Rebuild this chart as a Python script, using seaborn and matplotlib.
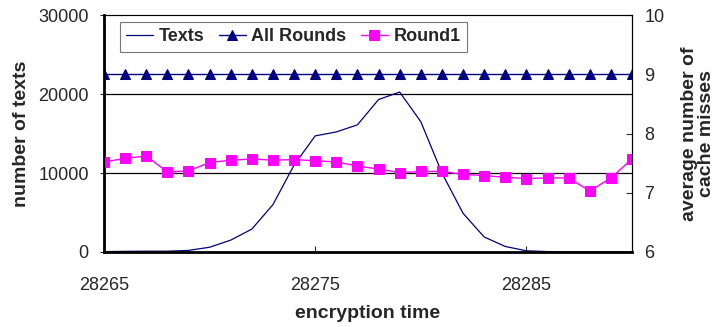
import numpy as np
import matplotlib.pyplot as plt
import seaborn as sns

# encryption time values on the x axis
enc_time = list(range(28265, 28291))

# number of texts (left axis)
texts = [50, 80, 100, 100, 200, 600, 1500, 2900, 6000, 11000, 14700, 15200, 16100,
         19300, 20250, 16500, 10000, 4900, 1900, 700, 150, 50, 0, 0, 0, 0]

# average number of cache misses (right axis)
all_rounds = [9.0] * 26
round1 = [7.52, 7.58, 7.62, 7.35, 7.37, 7.51, 7.55, 7.57, 7.55, 7.56, 7.54, 7.52, 7.45,
          7.40, 7.34, 7.36, 7.36, 7.31, 7.29, 7.26, 7.24, 7.25, 7.25, 7.03, 7.25, 7.57]

sns.set_style("white")
plt.rcParams['font.family'] = ['Liberation Sans', 'DejaVu Sans']

fig = plt.figure(figsize=(7.2, 3.27), dpi=100)
ax = fig.add_axes([0.1444, 0.2294, 0.7334, 0.7246])
ax2 = ax.twinx()

sns.lineplot(x=enc_time, y=texts, ax=ax, color="#000080", linewidth=0.9, label="Texts", legend=False)
sns.lineplot(x=enc_time, y=all_rounds, ax=ax2, color="#000080", linewidth=1.0,
             marker="^", markersize=7, markeredgecolor="#000080", label="All Rounds", legend=False)
sns.lineplot(x=enc_time, y=round1, ax=ax2, color="#FF00FF", linewidth=1.0,
             marker="s", markersize=7, markeredgecolor="#FF00FF", label="Round1", legend=False)

ax.set_xlim(28265, 28290)
ax.set_ylim(0, 30000)
ax2.set_ylim(6, 10)
ax.set_xticks([28265, 28275, 28285])
ax.set_yticks([0, 10000, 20000, 30000])
ax2.set_yticks([6, 7, 8, 9, 10])

for y in [10000, 20000]:
    ax.axhline(y, color="black", linewidth=0.9, zorder=0)

for a in (ax, ax2):
    for s in a.spines.values():
        s.set_color("black")
        s.set_linewidth(0.8)
ax.spines["left"].set_linewidth(2)
ax.spines["bottom"].set_linewidth(2)
ax.spines["top"].set_color("#555555")

ax.tick_params(axis="x", direction="in", length=4, labelsize=13, pad=18, bottom=True)
ax.tick_params(axis="y", direction="out", length=3, labelsize=13, pad=8, left=True)
ax2.tick_params(axis="y", direction="in", length=4, labelsize=13, right=True, pad=9)

ax.set_xlabel("encryption time", fontsize=14, fontweight="bold", labelpad=8)
ax.set_ylabel("number of texts", fontsize=14, fontweight="bold", labelpad=6)
ax2.set_ylabel("average number of\ncache misses", fontsize=14, fontweight="bold", labelpad=12,
               linespacing=1.0)

h1, l1 = ax.get_legend_handles_labels()
h2, l2 = ax2.get_legend_handles_labels()
leg = ax2.legend(h1 + h2, l1 + l2, loc="upper left", bbox_to_anchor=(0.03, 0.97), ncol=3,
                 prop={"weight": "bold", "size": 13}, frameon=True, fancybox=False,
                 edgecolor="#555555", borderpad=0.35, borderaxespad=0, handlelength=1.5,
                 columnspacing=0.8, handletextpad=0.3)
leg.get_frame().set_linewidth(0.8)

fig.savefig("out.png", dpi=100)
